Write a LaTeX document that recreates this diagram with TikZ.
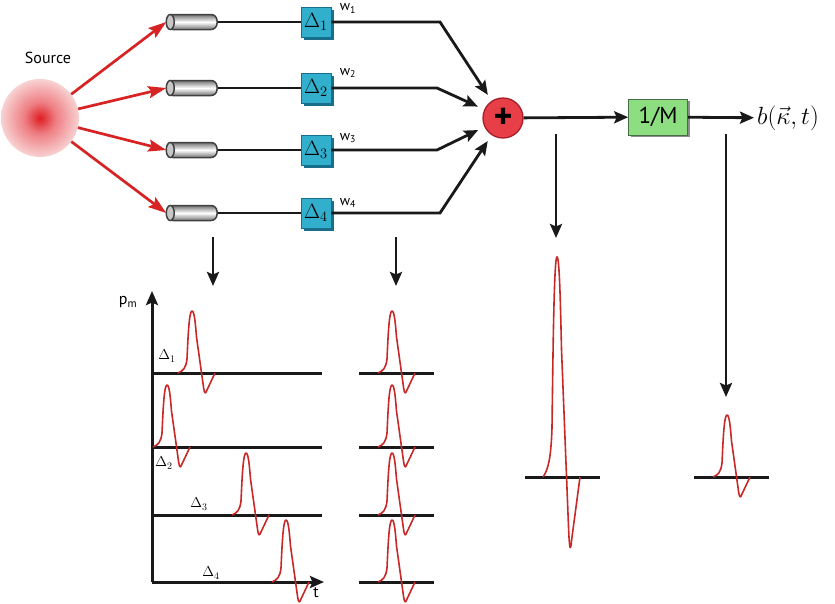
\documentclass[tikz,border=0pt]{standalone}
\usepackage{fontspec}
\setsansfont{PT Sans}
\usetikzlibrary{arrows.meta,shadows}
\definecolor{wirec}{RGB}{25,25,25}
\definecolor{redc}{RGB}{215,35,35}
\definecolor{pulsec}{RGB}{200,40,40}
\definecolor{boxc}{RGB}{50,175,205}
\definecolor{boxd}{RGB}{25,110,140}
\definecolor{greenc}{RGB}{140,222,128}
\definecolor{greend}{RGB}{70,110,70}
\definecolor{plusc}{RGB}{232,62,72}
\definecolor{plusd}{RGB}{165,30,40}
\definecolor{srcA}{RGB}{222,30,35}
\definecolor{srcB}{RGB}{238,125,130}
\definecolor{srcC}{RGB}{248,210,210}
\pgfdeclareradialshading{srcglow}{\pgfpoint{0bp}{0bp}}{color(0bp)=(srcA); color(10bp)=(srcB); color(25bp)=(srcC); color(50bp)=(srcC)}
\begin{document}
\begin{tikzpicture}[x=1pt,y=-1pt,
  wire/.style={draw=wirec, line width=2.8pt},
  arr/.style={wire, -{Stealth[length=14pt,width=12pt,inset=2.5pt]}},
  redarr/.style={draw=redc, line width=2.7pt, -{Stealth[length=18pt,width=12pt,inset=3pt]}},
  cyl/.style={rectangle, rounded corners=6pt, minimum width=50pt, minimum height=15pt, inner sep=0pt,
    draw=black!75, line width=1.5pt, top color=black!55, bottom color=black!55, middle color=white},
  capend/.style={fill=black!22, draw=black!75, line width=1.5pt},
  delay/.style={rectangle, minimum size=30pt, inner sep=0pt, fill=boxc, draw=boxd, line width=0.6pt,
    drop shadow={shadow xshift=2.5pt, shadow yshift=-2.5pt, fill=boxd, opacity=1},
    font=\fontsize{20}{20}\selectfont},
  wlab/.style={font=\sffamily\fontsize{14}{14}\selectfont, inner sep=0pt},
  dlab/.style={font=\fontsize{14}{14}\selectfont, inner sep=0pt},
  sumnode/.style={circle, minimum size=40pt, inner sep=0pt, fill=plusc, draw=plusd, line width=1.3pt,
    font=\sffamily\bfseries\fontsize{36}{36}\selectfont},
  invbox/.style={rectangle, minimum width=59pt, minimum height=36pt, inner sep=0pt, fill=greenc, draw=greend,
    line width=0.6pt, drop shadow={shadow xshift=2pt, shadow yshift=-2pt, fill=black!45, opacity=1},
    font=\sffamily\fontsize{23}{23}\selectfont},
  baseln/.style={draw=wirec, line width=3pt},
  axisln/.style={draw=wirec, line width=3pt, -{Stealth[length=14pt,width=12pt,inset=2.5pt]}},
  pulseline/.style={draw=pulsec, line width=1.6pt, line join=round},
  pulse/.pic={\draw[pulseline] (0,0) .. controls (5,-2) and (8,-5) .. (9,-14)
      .. controls (10,-35) and (11,-62) .. (14,-62)
      .. controls (16.5,-62) and (17.5,-48) .. (18.5,-36) -- (25.5,14)
      .. controls (26.5,21) and (27.5,21) .. (28.5,18) -- (37,0);}
]
\useasboundingbox (0,0) rectangle (835,603);

% source
\node[circle, minimum size=78pt, inner sep=0pt, shading=srcglow] (src) at (40,118) {};
\node[font=\sffamily\fontsize{16}{16}\selectfont] (srclab) at (48,58) {Source};

% cylinders
\foreach \i/\y in {1/22,2/88,3/150,4/213}{
  \node[cyl] (c\i) at (192,\y) {};
  \draw[capend] ([xshift=4pt]c\i.west) ellipse [x radius=4pt, y radius=7.5pt];
  \draw[redarr] (src) -- (c\i.west);
  \node[delay] (d\i) at (316,\y) {$\Delta_{\i}$};
  \draw[wire] (c\i) -- (d\i);
}
\node[wlab] (w1) at (348,8.5) {w\textsubscript{1}};
\node[wlab] (w2) at (348,73) {w\textsubscript{2}};
\node[wlab] (w3) at (348,138) {w\textsubscript{3}};
\node[wlab] (w4) at (348,203) {w\textsubscript{4}};

% summer
\node[sumnode] (plus) at (503,118) {+};
\coordinate (k1) at (440,22);
\coordinate (k2) at (437,88);
\coordinate (k3) at (437,150);
\coordinate (k4) at (440,213);
\foreach \i in {1,2,3,4}{
  \draw[arr, shorten >=7pt] (d\i.east) -- (k\i) -- (plus);
}

\node[invbox] (inv) at (658,117) {1/M};
\node[anchor=west, inner sep=0pt, font=\fontsize{24}{24}\selectfont] (out) at (757,118) {$b(\vec{\kappa},t)$};
\draw[arr] (plus) -- (inv);
\draw[arr, shorten >=3pt] (inv) -- (out);

% downward arrows
\coordinate (a1s) at (213,237); \coordinate (a1e) at (213,286);
\coordinate (a2s) at (396,237); \coordinate (a2e) at (396,286);
\coordinate (a3s) at (556,134); \coordinate (a3e) at (556,238);
\coordinate (a4s) at (726,134); \coordinate (a4e) at (726,397);
\draw[arr] (a1s) -- (a1e);
\draw[arr] (a2s) -- (a2e);
\draw[arr] (a3s) -- (a3e);
\draw[arr] (a4s) -- (a4e);

% left plot
\coordinate (o) at (152,582);
\coordinate (ytop) at (152,291);
\coordinate (xend) at (324,582);
\draw[axisln] (o) -- (ytop);
\draw[axisln] (o) -- (xend);
\node[font=\sffamily\fontsize{16}{16}\selectfont, inner sep=0pt] (pm) at (128,302) {p\textsubscript{m}};
\node[font=\sffamily\fontsize{16}{16}\selectfont, inner sep=0pt] (tl) at (316,593) {t};
\foreach \y in {373,447,515}{
  \draw[baseln] (152,\y) -- (322,\y);
}
\foreach \y in {373,447,515,582}{
  \draw[baseln] (359,\y) -- (434,\y);
  \pic at (378,\y) {pulse};
}
\pic at (178,373) {pulse};
\pic at (153,447) {pulse};
\pic at (232,515) {pulse};
\pic at (272,582) {pulse};
\node[dlab] (l1) at (167,356) {$\Delta_1$};
\node[dlab] (l2) at (164,463) {$\Delta_2$};
\node[dlab] (l3) at (199,504) {$\Delta_3$};
\node[dlab] (l4) at (211,573) {$\Delta_4$};

% summed pulses
\draw[baseln] (525,477) -- (600,477);
\pic[yscale=3.55] at (543,477) {pulse};
\draw[baseln] (694,477) -- (769,477);
\pic at (713,477) {pulse};
\end{tikzpicture}
\end{document}
